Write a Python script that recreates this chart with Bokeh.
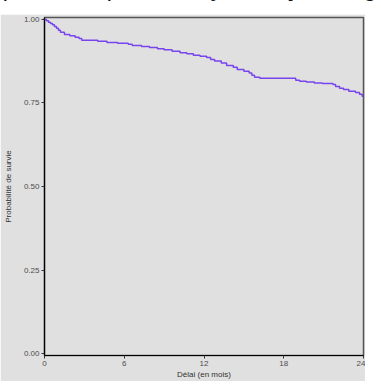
from bokeh.plotting import figure
from bokeh.models import Range1d, FixedTicker, Div
from bokeh.layouts import column
from bokeh.embed import file_html
from bokeh.resources import INLINE

title_text = "Survie globale parmi les patients ayant reçu une greffe rénale"
x_label = "Délai (en mois)"
y_label = "Probabilité de survie"
x_ticks = [0, 6, 12, 18, 24]
y_ticks = [0.0, 0.25, 0.5, 0.75, 1.0]
y_tick_labels = {0: "0.00", 0.25: "0.25", 0.5: "0.50", 0.75: "0.75", 1: "1.00"}

times = [0, 0.15, 0.3, 0.45, 0.6, 0.75, 0.9, 1.05, 1.2, 1.5, 1.9, 2.3, 2.6, 2.8,
         4.0, 4.7, 5.5, 6.3, 6.6, 7.3, 7.9, 8.5, 9.0, 9.6, 10.2, 10.7, 11.2, 11.7,
         12.2, 12.5, 12.8, 13.3, 13.7, 14.2, 14.5, 15.0, 15.4, 15.6, 15.8, 16.2,
         18.9, 19.2, 19.7, 20.3, 20.9, 21.7, 21.9, 22.2, 22.5, 22.9, 23.4, 23.7,
         23.9, 24.0]
survival = [1.000, 0.996, 0.992, 0.988, 0.984, 0.979, 0.974, 0.968, 0.962, 0.955,
            0.951, 0.947, 0.943, 0.938, 0.935, 0.931, 0.929, 0.926, 0.922, 0.919,
            0.916, 0.912, 0.909, 0.905, 0.900, 0.897, 0.893, 0.890, 0.886, 0.880,
            0.876, 0.870, 0.862, 0.857, 0.850, 0.845, 0.840, 0.833, 0.827, 0.824,
            0.818, 0.815, 0.813, 0.810, 0.808, 0.805, 0.799, 0.794, 0.790, 0.785,
            0.781, 0.776, 0.770, 0.770]

BG = "#e0e0e0"

title = Div(
    text=('<span style="white-space:nowrap;font-family:\'Liberation Sans\',Arial,sans-serif;'
          'font-style:italic;font-size:24px;line-height:24px;color:#111;">'
          + title_text + '</span>'),
    width=365, height=4,
    styles={"position": "relative", "top": "-29px", "left": "-159px", "overflow": "visible"},
)

p = figure(width=365, height=367,
           x_range=Range1d(0, 24), y_range=Range1d(-0.00585, 1.00585),
           output_backend="svg", toolbar_location=None,
           min_border_left=38, min_border_right=2, min_border_top=3, min_border_bottom=18,
           background_fill_color=BG, border_fill_color=BG)

p.step(x=times, y=survival, mode="after", line_color="#7744ee", line_width=1.5)

p.xgrid.visible = False
p.ygrid.visible = False
p.outline_line_color = "#555555"
p.outline_line_width = 1.5

p.xaxis.ticker = FixedTicker(ticks=x_ticks)
p.yaxis.ticker = FixedTicker(ticks=y_ticks)
p.yaxis.major_label_overrides = y_tick_labels

for ax in (p.xaxis[0], p.yaxis[0]):
    ax.axis_line_color = "black"
    ax.axis_line_width = 1.2
    ax.major_tick_line_color = "#333333"
    ax.major_tick_out = 3
    ax.major_tick_in = 0
    ax.minor_tick_line_color = None
    ax.major_label_text_font = "Liberation Sans"
    ax.major_label_text_font_size = "8px"
    ax.major_label_text_color = "#4d4d4d"
    ax.major_label_standoff = 2
    ax.axis_label_text_font = "Liberation Sans"
    ax.axis_label_text_font_size = "8px"
    ax.axis_label_text_font_style = "normal"
    ax.axis_label_text_color = "#333333"

p.xaxis.axis_label = x_label
p.yaxis.axis_label = y_label
p.xaxis.axis_label_standoff = 1
p.yaxis.axis_label_standoff = 8

layout = column(title, p, spacing=0)

open("out.html", "w").write(file_html(layout, INLINE))
